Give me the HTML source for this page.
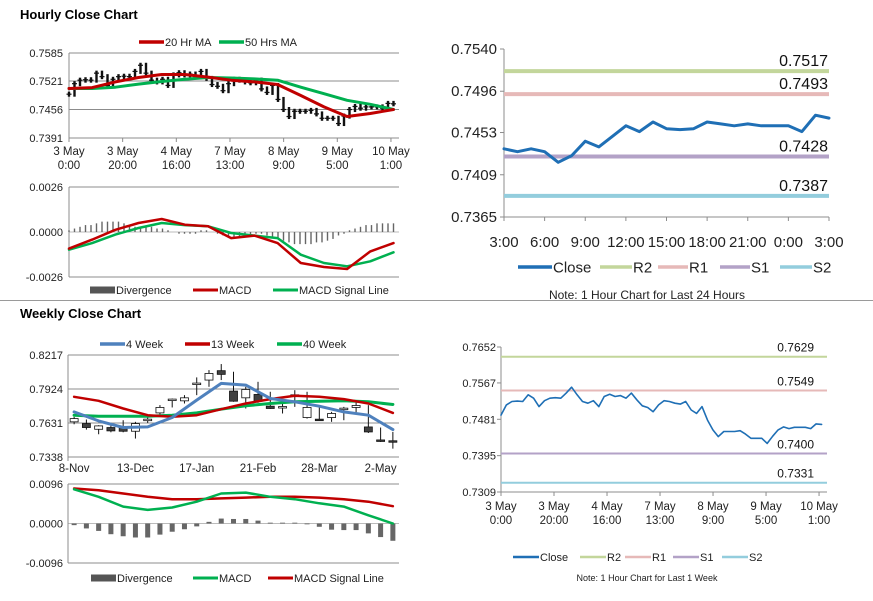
<!DOCTYPE html>
<html><head><meta charset="utf-8"><style>
html,body{margin:0;padding:0;background:#fff;}
svg{display:block;font-family:"Liberation Sans",Arial,sans-serif;}
</style></head><body>
<svg id="s" width="873" height="601" viewBox="0 0 873 601" xmlns="http://www.w3.org/2000/svg">
<text x="20" y="19" font-size="13" font-weight="bold" fill="#000">Hourly Close Chart</text>
<line x1="0" y1="300.5" x2="873" y2="300.5" stroke="#9a9a9a" stroke-width="1"/>
<text x="20" y="318" font-size="13" font-weight="bold" fill="#000">Weekly Close Chart</text>
</svg>
<script>
// ---------- data ----------
const hourlyClose=[0.7491,0.7515,0.7523,0.7524,0.7523,0.7539,0.7531,0.7511,0.7525,0.7531,0.7532,0.7531,0.7543,0.7557,0.7539,0.7523,0.7519,0.7525,0.7511,0.7535,0.7540,0.7535,0.7537,0.7531,0.7543,0.7527,0.7513,0.7509,0.7499,0.7515,0.7525,0.7523,0.7519,0.7517,0.7523,0.7503,0.7495,0.7511,0.7479,0.7456,0.7440,0.7452,0.7452,0.7452,0.7454,0.7446,0.7436,0.7436,0.7436,0.7424,0.7441,0.7456,0.7463,0.7459,0.7462,0.7462,0.7462,0.7459,0.7470,0.7469];
const ma20=[0.7504,0.7506,0.7519,0.7529,0.7536,0.7536,0.7530,0.7523,0.7519,0.7513,0.7488,0.7462,0.7440,0.7447,0.7456];
const ma50=[0.7504,0.7504,0.7507,0.7514,0.7520,0.7525,0.7529,0.7528,0.7526,0.7523,0.7507,0.7492,0.7477,0.7468,0.7456];
const hMacd=[-0.00096,-0.00044,0.00013,0.00052,0.00075,0.00042,0.00033,-0.00035,-0.00021,-0.00064,-0.00179,-0.00202,-0.00214,-0.00112,-0.00064];
const hSignal=[-0.00102,-0.00064,-0.00015,0.00023,0.00052,0.00040,0.00033,-0.00006,-0.00021,-0.00035,-0.00131,-0.00179,-0.00198,-0.00169,-0.00117];
const hDiv=[0.0001,0.0002,0.0003,0.0004,0.0004,0.0005,0.0006,0.0006,0.0006,0.0006,0.0005,0.0004,0.0003,0.0003,0.0003,0.0003,0.0002,0.0002,0.0001,0.0000,-0.0001,-0.0001,-0.0001,-0.0001,0.0001,0.0001,0.0000,-0.0001,-0.0002,-0.0003,-0.0003,-0.0003,-0.0002,-0.0002,-0.0001,-0.0001,-0.0002,-0.0003,-0.0004,-0.0005,-0.0006,-0.0007,-0.0007,-0.0007,-0.0007,-0.0006,-0.0006,-0.0005,-0.0004,-0.0002,-0.0001,0.0001,0.0002,0.0003,0.0004,0.0004,0.0005,0.0005,0.0005,0.0005];
const hourLabels=[["3 May","0:00"],["3 May","20:00"],["4 May","16:00"],["7 May","13:00"],["8 May","9:00"],["9 May","5:00"],["10 May","1:00"]];
const dayClose=[0.7436,0.7433,0.7436,0.7433,0.7422,0.7429,0.7444,0.7438,0.7449,0.7460,0.7454,0.7464,0.7457,0.7456,0.7457,0.7464,0.7462,0.7460,0.7462,0.7460,0.7460,0.7460,0.7454,0.7471,0.7468];
const dayLabels=["3:00","6:00","9:00","12:00","15:00","18:00","21:00","0:00","3:00"];
const dayTicks=[0.7540,0.7496,0.7453,0.7409,0.7365];
const dayLevels=[0.7517,0.7493,0.7428,0.7387];
const weekLevels=[0.7629,0.7549,0.7400,0.7331];
const weekTicksR=[0.7652,0.7567,0.7481,0.7395,0.7309];
const wOpen=[0.7641,0.7626,0.7577,0.7592,0.7597,0.7560,0.7658,0.7718,0.7831,0.7822,0.7969,0.8001,0.8082,0.7906,0.7848,0.7877,0.7776,0.7767,0.7868,0.7678,0.7664,0.7678,0.7753,0.7765,0.7597,0.7485,0.7478];
const wClose=[0.7669,0.7592,0.7606,0.7563,0.7560,0.7626,0.7664,0.7765,0.7837,0.7848,0.7975,0.8058,0.8050,0.7819,0.7920,0.7819,0.7756,0.7773,0.7874,0.7765,0.7661,0.7713,0.7759,0.7782,0.7554,0.7482,0.7475];
const wHigh=[0.7684,0.7661,0.7612,0.7632,0.7655,0.7641,0.7690,0.7785,0.7842,0.7871,0.8024,0.8087,0.8139,0.8073,0.7943,0.7986,0.7900,0.7799,0.7914,0.7900,0.7776,0.7727,0.7770,0.7814,0.7785,0.7592,0.7554];
const wLow=[0.7620,0.7574,0.7534,0.7551,0.7551,0.7497,0.7632,0.7698,0.7765,0.7799,0.7871,0.7943,0.8001,0.7814,0.7756,0.7805,0.7753,0.7713,0.7770,0.7669,0.7655,0.7641,0.7655,0.7713,0.7545,0.7468,0.7410];
const wk4=[0.7727,0.7649,0.7592,0.7597,0.7678,0.7828,0.7972,0.7958,0.7842,0.7814,0.7776,0.7727,0.7698,0.7574];
const wk13=[0.7857,0.7822,0.7756,0.7698,0.7684,0.7698,0.7750,0.7799,0.7837,0.7865,0.7857,0.7837,0.7799,0.7718];
const wk40=[0.7698,0.7690,0.7690,0.7690,0.7698,0.7718,0.7750,0.7779,0.7799,0.7814,0.7819,0.7822,0.7814,0.7790];
const wMacd=[0.0083,0.0065,0.0041,0.0033,0.0039,0.0053,0.0073,0.0075,0.0065,0.0059,0.0049,0.0041,0.0020,0.0000];
const wSignal=[0.0085,0.0081,0.0073,0.0065,0.0059,0.0059,0.0061,0.0063,0.0065,0.0065,0.0063,0.0059,0.0053,0.0042];
const wDiv=[-0.0004,-0.0012,-0.0018,-0.0026,-0.0031,-0.0034,-0.0034,-0.0027,-0.0020,-0.0014,-0.0007,0.0004,0.0012,0.0011,0.0011,0.0007,0.0002,0.0002,0.0002,-0.0002,-0.0008,-0.0015,-0.0016,-0.0016,-0.0024,-0.0033,-0.0042];
const weekLabels=["8-Nov","13-Dec","17-Jan","21-Feb","28-Mar","2-May"];
const hTicks=[0.7585,0.7521,0.7456,0.7391];
const hmTicks=[0.0026,0.0000,-0.0026];
const wTicks=[0.8217,0.7924,0.7631,0.7338];
const wmTicks=[0.0096,0.0000,-0.0096];

// ---------- helpers ----------
const svg=document.getElementById('s');
const NS="http://www.w3.org/2000/svg";
function mk(tag,attrs,parent){const e=document.createElementNS(NS,tag);for(const k in attrs)e.setAttribute(k,attrs[k]);(parent||svg).appendChild(e);return e;}
function lin(d0,d1,r0,r1){return v=>r0+(v-d0)/(d1-d0)*(r1-r0);}
function txt(x,y,s,size,anchor,fill){const t=mk('text',{x:x,y:y,'font-size':size,'text-anchor':anchor||'start',fill:fill||'#222'});t.textContent=s;return t;}
function poly(xs,ys,color,w){let d='';for(let i=0;i<xs.length;i++)d+=(i?'L':'M')+xs[i].toFixed(1)+' '+ys[i].toFixed(1);return mk('path',{d:d,fill:'none',stroke:color,'stroke-width':w,'stroke-linejoin':'round','stroke-linecap':'round'});}
function legLine(x,y,w,color,th,label,size){const l=mk('line',{x1:x,y1:y,x2:x+w,y2:y,stroke:color,'stroke-width':th});


const t=txt(x+w+1,y+size*0.36,label,size,'start','#222');

}

// ---------- hourly price (top-left) ----------
const HX0=69,HX1=399;
const hy=lin(0.7391,0.7585,138,53);
const hSpan=123, hStep=2.05;
const hx=h=>HX0+h/hSpan*(HX1-HX0);
hTicks.forEach(v=>{const g=mk('line',{x1:HX0,x2:HX1,y1:hy(v),y2:hy(v),stroke:'#8c8c8c','stroke-width':1});


const t=txt(HX0-6,hy(v)+4,v.toFixed(4),11,'end');

});
mk('line',{x1:HX0,x2:HX0,y1:53,y2:142,stroke:'#8c8c8c'});
hourLabels.forEach((l,i)=>{const x=hx(i*20);mk('line',{x1:x,x2:x,y1:138,y2:142,stroke:'#8c8c8c'});
const t1=txt(x,155,l[0],11.5,'middle');
const t2=txt(x,169,l[1],11.5,'middle');});
hourlyClose.forEach((v,i)=>{const p=i?hourlyClose[i-1]:v;const x=hx(i*hStep);
const a=Math.min(hy(v),hy(p))-2.5,b=Math.max(hy(v),hy(p))+2.5;
const b1=mk('line',{x1:x,x2:x,y1:a,y2:b,stroke:'#111','stroke-width':2.4});


const t1=mk('line',{x1:x-2.5,x2:x+2.5,y1:hy(v),y2:hy(v),stroke:'#111','stroke-width':1.2});

});
const ma50p=poly(ma50.map((v,i)=>hx(i*hStep*59/14)),ma50.map(hy),'#00b050',3);


const ma20p=poly(ma20.map((v,i)=>hx(i*hStep*59/14)),ma20.map(hy),'#c00000',3);


legLine(139,42,25,'#c00000',3.5,'20 Hr MA',11);
legLine(219,42,25,'#00b050',3.5,'50 Hrs MA',11);

// ---------- hourly MACD ----------
const hmy=lin(-0.0026,0.0026,277,187);
hmTicks.forEach(v=>{const g=mk('line',{x1:HX0,x2:HX1,y1:hmy(v),y2:hmy(v),stroke:v===0?'#bbbbbb':'#8c8c8c','stroke-width':1});


const t=txt(HX0-6,hmy(v)+4,v.toFixed(4),11,'end');

});
mk('line',{x1:HX0,x2:HX0,y1:187,y2:277,stroke:'#8c8c8c'});
hDiv.forEach((v,i)=>{const x=hx(i*hStep*59/59);const b=mk('rect',{x:x-0.7,width:1.4,y:Math.min(hmy(v),hmy(0)),height:Math.abs(hmy(v)-hmy(0)),fill:'#666'});

});
const hsp=poly(hSignal.map((v,i)=>hx(i*hStep*59/14)),hSignal.map(hmy),'#00b050',2.5);


const hmp=poly(hMacd.map((v,i)=>hx(i*hStep*59/14)),hMacd.map(hmy),'#c00000',2.5);


legLine(90,290,25,'#555',7,'Divergence',11);
legLine(193,290,25,'#c00000',3,'MACD',11);
legLine(273,290,25,'#00b050',3,'MACD Signal Line',11);

// ---------- 24h chart (top-right) ----------
const DX0=504,DX1=829;
const dy=lin(0.7365,0.7540,217,49);
const dx=i=>DX0+i/(dayClose.length-1)*(DX1-DX0);
mk('line',{x1:DX0,x2:DX0,y1:49,y2:217,stroke:'#8c8c8c'});
mk('line',{x1:DX0,x2:DX1,y1:217,y2:217,stroke:'#8c8c8c'});
dayTicks.forEach(v=>{mk('line',{x1:DX0-4,x2:DX0,y1:dy(v),y2:dy(v),stroke:'#8c8c8c'});
const t=txt(DX0-7,dy(v)+5,v.toFixed(4),15,'end');

});
dayLabels.forEach((l,i)=>{const x=dx(i*3);mk('line',{x1:x,x2:x,y1:217,y2:221,stroke:'#8c8c8c'});
const t=txt(x,247,l,15,'middle');

});
const lvlCol=['#c3d69b','#e6b9b8','#b3a2c7','#93cddd'];
const lvlNames=['R2','R1','S1','S2'];
dayLevels.forEach((v,i)=>{const l=mk('line',{x1:DX0,x2:DX1,y1:dy(v),y2:dy(v),stroke:lvlCol[i],'stroke-width':4});


const t=txt(828,dy(v)-5,v.toFixed(4),16,'end','#111');

});
const dcp=poly(dayClose.map((v,i)=>dx(i)),dayClose.map(dy),'#1f6fb5',3);


legLine(518,267,34,'#1f6fb5',3.5,'Close',15);
legLine(600,267,32,lvlCol[0],3.5,'R2',15);
legLine(658,267,30,lvlCol[1],3.5,'R1',15);
legLine(720,267,30,lvlCol[2],3.5,'S1',15);
legLine(780,267,32,lvlCol[3],3.5,'S2',15);
const n1=txt(647,299,'Note: 1 Hour Chart for Last 24 Hours',12,'middle');



// ---------- week hourly (bottom-right) ----------
const RX0=501,RX1=827;
const ry=lin(0.7309,0.7652,492,347);
const rx=h=>RX0+h/hSpan*(RX1-RX0);
mk('line',{x1:RX0,x2:RX0,y1:347,y2:492,stroke:'#8c8c8c'});
mk('line',{x1:RX0,x2:RX1,y1:492,y2:492,stroke:'#8c8c8c'});
weekTicksR.forEach(v=>{mk('line',{x1:RX0-4,x2:RX0,y1:ry(v),y2:ry(v),stroke:'#8c8c8c'});
const t=txt(RX0-5,ry(v)+4,v.toFixed(4),11,'end');

});
hourLabels.forEach((l,i)=>{const x=rx(i*20);mk('line',{x1:x,x2:x,y1:492,y2:496,stroke:'#8c8c8c'});
const t1=txt(x,510,l[0],11.5,'middle');
const t2=txt(x,524,l[1],11.5,'middle');});
weekLevels.forEach((v,i)=>{const l=mk('line',{x1:RX0,x2:RX1,y1:ry(v),y2:ry(v),stroke:lvlCol[i],'stroke-width':2});


const t=txt(814,ry(v)-5,v.toFixed(4),12,'end','#111');

});
const rcp=poly(hourlyClose.map((v,i)=>rx(i*hStep)),hourlyClose.map(ry),'#1f6fb5',1.6);


legLine(513,557,26,'#1f6fb5',2.5,'Close',11);
legLine(580,557,26,lvlCol[0],2.5,'R2',11);
legLine(625,557,26,lvlCol[1],2.5,'R1',11);
legLine(673,557,26,lvlCol[2],2.5,'S1',11);
legLine(722,557,26,lvlCol[3],2.5,'S2',11);
const n2=txt(647,581,'Note: 1 Hour Chart for Last 1 Week',9,'middle');



// ---------- weekly candles ----------
const WX0=68,WX1=399;
const wy=lin(0.7338,0.8217,457,355);
const n=wOpen.length,cw=(WX1-WX0)/n;
const wx=i=>WX0+(i+0.5)*cw;
wTicks.forEach(v=>{const g=mk('line',{x1:WX0,x2:WX1,y1:wy(v),y2:wy(v),stroke:'#8c8c8c'});


const t=txt(WX0-5,wy(v)+4,v.toFixed(4),11,'end');

});
mk('line',{x1:WX0,x2:WX0,y1:355,y2:461,stroke:'#8c8c8c'});
weekLabels.forEach((l,i)=>{const x=wx(i*5);
const t=txt(x,472,l,11.5,'middle');

});
for(let i=0;i<n;i++){const x=wx(i);
const w=mk('line',{x1:x,x2:x,y1:wy(wHigh[i]),y2:wy(wLow[i]),stroke:'#111','stroke-width':1});


const top=Math.min(wy(wOpen[i]),wy(wClose[i])),h=Math.max(1.5,Math.abs(wy(wOpen[i])-wy(wClose[i])));
const up=wClose[i]>=wOpen[i];
const b=mk('rect',{x:x-4,y:top,width:8,height:h,fill:up?'#fff':'#404040',stroke:'#111','stroke-width':0.8});

}
const mi=i=>wx(i*2);
const p40=poly(wk40.map((v,i)=>mi(i)),wk40.map(wy),'#00b050',3);


const p13=poly(wk13.map((v,i)=>mi(i)),wk13.map(wy),'#c00000',2.5);


const p4=poly(wk4.map((v,i)=>mi(i)),wk4.map(wy),'#4f81bd',3);


legLine(100,344,25,'#4f81bd',3.5,'4 Week',11);
legLine(185,344,25,'#c00000',3.5,'13 Week',11);
legLine(277,344,25,'#00b050',3.5,'40 Week',11);

// ---------- weekly MACD ----------
const wmy=lin(-0.0096,0.0096,563,484);
wmTicks.forEach(v=>{const g=mk('line',{x1:WX0,x2:WX1,y1:wmy(v),y2:wmy(v),stroke:v===0?'#bbbbbb':'#8c8c8c'});


const t=txt(WX0-5,wmy(v)+4,v.toFixed(4),11,'end');

});
mk('line',{x1:WX0,x2:WX0,y1:484,y2:563,stroke:'#8c8c8c'});
wDiv.forEach((v,i)=>{const b=mk('rect',{x:wx(i)-2.5,width:5,y:Math.min(wmy(v),wmy(0)),height:Math.abs(wmy(v)-wmy(0)),fill:'#666'});

});
const wsp=poly(wSignal.map((v,i)=>mi(i)),wSignal.map(wmy),'#c00000',2.5);


const wmp=poly(wMacd.map((v,i)=>mi(i)),wMacd.map(wmy),'#00b050',2.5);


legLine(91,578,25,'#555',7,'Divergence',11);
legLine(193,578,25,'#00b050',3,'MACD',11);
legLine(268,578,25,'#c00000',3,'MACD Signal Line',11);
</script>
</body></html>
